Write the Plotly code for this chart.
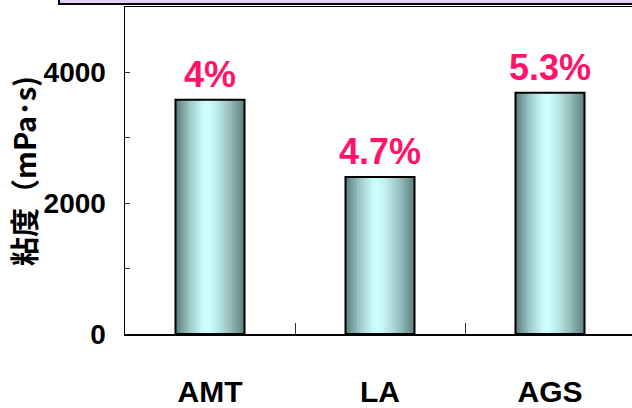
import plotly.graph_objects as go

# ---- data ----
categories = ["AMT", "LA", "AGS"]
viscosity = [3580, 2400, 3690]
pct_labels = ["4%", "4.7%", "5.3%"]
y_tick_vals = [0, 1000, 2000, 3000, 4000, 5000]
y_tick_text = ["0", "", "2000", "", "4000", ""]
y_title = "粘度（mPa･s)"

# ---- style ----
W, H = 632, 408
ML, MR, MT, MB = 125, 0, 7, 70
LATIN = "Liberation Sans, Arial, sans-serif"
CJK = "Noto Sans CJK JP, Liberation Sans, sans-serif"
PINK = "#FF1469"
BAR_W = 0.406
N_SLICES = 48
DARK_L = (86, 122, 120)
DARK_R = (92, 124, 122)
LIGHT = (206, 255, 255)
PEAK = 0.45

fig = go.Figure()

def grad_color(t):
    if t < PEAK:
        u = (PEAK - t) / PEAK
        dark = DARK_L
    else:
        u = (t - PEAK) / (1 - PEAK)
        dark = DARK_R
    m = 1 - u ** 1.4
    c = [round(d + (l - d) * m) for d, l in zip(dark, LIGHT)]
    return "rgb(%d,%d,%d)" % tuple(c)

sw = BAR_W / N_SLICES
for i in range(N_SLICES):
    t = (i + 0.5) / N_SLICES
    fig.add_trace(go.Bar(
        x=categories, y=viscosity,
        width=sw * 1.15, offset=-BAR_W / 2 + i * sw,
        marker=dict(color=grad_color(t), line=dict(width=0)),
        showlegend=False, hoverinfo="skip",
    ))

# outline
fig.add_trace(go.Bar(
    x=categories, y=viscosity, width=BAR_W, offset=-BAR_W / 2,
    marker=dict(color="rgba(0,0,0,0)", line=dict(color="black", width=2)),
    showlegend=False, hoverinfo="skip",
))

for c, v, s in zip(categories, viscosity, pct_labels):
    fig.add_annotation(
        x=c, y=v, xref="x", yref="y", text=s, showarrow=False,
        yanchor="bottom", xanchor="center", yshift=3,
        font=dict(family=LATIN, size=36, color=PINK, weight="bold"),
    )

plot_w = W - ML - MR
plot_h = H - MT - MB

# y-axis title
fig.add_annotation(
    x=(23 - ML) / plot_w, y=(H - MB - 173) / plot_h, xref="paper", yref="paper",
    text=y_title, textangle=-90, showarrow=False,
    xanchor="center", yanchor="middle",
    font=dict(family=CJK, size=29, color="black", weight="bold"),
)

# lavender box at top
fig.add_shape(
    type="rect", xref="paper", yref="paper",
    x0=(59 - ML) / plot_w, x1=1.1,
    y0=1 + 3 / plot_h, y1=1 + 20 / plot_h,
    fillcolor="#E2CEF7", line=dict(color="black", width=2), layer="above",
)

fig.update_layout(
    width=W, height=H, autosize=False,
    margin=dict(l=ML, r=MR, t=MT, b=MB),
    paper_bgcolor="white", plot_bgcolor="white",
    barmode="overlay", bargap=0,
    xaxis=dict(
        type="category", range=[-0.5, -0.5 + plot_w / 170.0],
        showline=True, linecolor="black", linewidth=1.5, mirror=True,
        ticks="inside", tickson="boundaries", ticklen=11, tickcolor="#333", tickwidth=1,
        showgrid=False, zeroline=False,
        tickfont=dict(family=LATIN, size=30, color="black", weight="bold"),
        ticklabelstandoff=30,
    ),
    yaxis=dict(
        range=[0, 5000],
        tickvals=y_tick_vals, ticktext=y_tick_text,
        showline=True, linecolor="black", linewidth=1.5,
        ticks="inside", ticklen=5, tickcolor="#333", tickwidth=1,
        showgrid=False, zeroline=False,
        tickfont=dict(family=LATIN, size=28, color="black", weight="bold"),
        ticklabelstandoff=12,
    ),
)

fig.write_html(
    "out.html",
    config={"displayModeBar": False, "staticPlot": True},
    post_script="document.body.style.margin='0';document.body.style.overflow='hidden';",
)
